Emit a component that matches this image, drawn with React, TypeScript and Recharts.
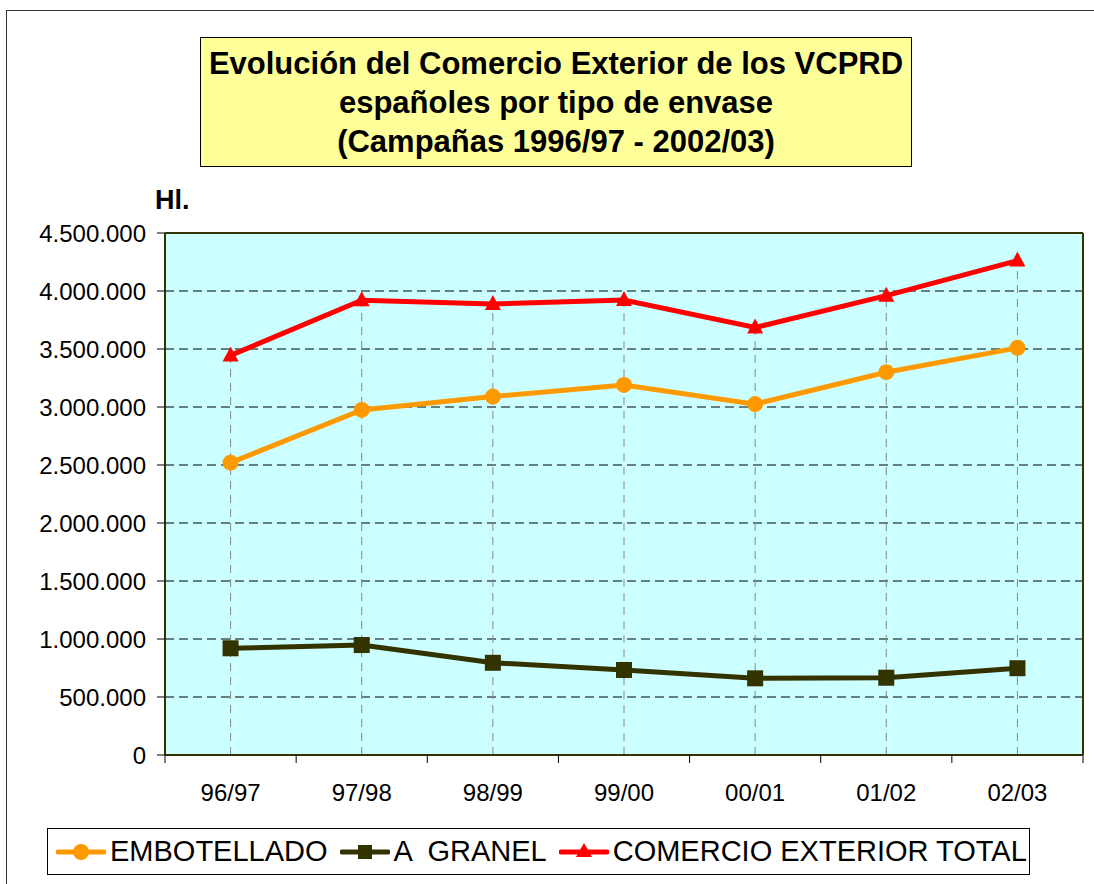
import React from 'react'
import { LineChart, Line, XAxis, YAxis, CartesianGrid, ReferenceLine } from 'recharts'

const campaigns = ['96/97', '97/98', '98/99', '99/00', '00/01', '01/02', '02/03']
const embotellado = [2520000, 2975000, 3090000, 3190000, 3025000, 3300000, 3510000]
const granel = [920000, 948000, 795000, 733000, 661000, 666000, 748000]
const total = [3445000, 3920000, 3888000, 3922000, 3685000, 3960000, 4262000]
const yTicks = [0, 500000, 1000000, 1500000, 2000000, 2500000, 3000000, 3500000, 4000000, 4500000]

const data = campaigns.map((c, i) => ({
  campaign: c,
  embotellado: embotellado[i],
  granel: granel[i],
  total: total[i],
}))

const FONT = '"Liberation Sans", Arial, sans-serif'
const W = 1094
const H = 884
const PLOT_LEFT = 165
const PLOT_RIGHT = 1083
const PLOT_TOP = 233
const PLOT_BOTTOM = 755
const BAND = (PLOT_RIGHT - PLOT_LEFT) / campaigns.length

const ORANGE = '#FF9900'
const OLIVE = '#333300'
const RED = '#FF0000'

const fmt = (v: number) => String(v).replace(/\B(?=(\d{3})+(?!\d))/g, '.')

const CircleDot = (props: any) => {
  const { cx, cy, index } = props
  return <circle key={`c-${index}`} cx={cx} cy={cy} r={8} fill={ORANGE} />
}

const SquareDot = (props: any) => {
  const { cx, cy, index } = props
  return <rect key={`s-${index}`} x={cx - 8} y={cy - 8} width={16} height={16} fill={OLIVE} />
}

const TriangleDot = (props: any) => {
  const { cx, cy, index } = props
  return (
    <polygon
      key={`t-${index}`}
      points={`${cx},${cy - 9} ${cx + 8},${cy + 6} ${cx - 8},${cy + 6}`}
      fill={RED}
    />
  )
}

const XTick = (props: any) => {
  const { x, y, payload, index } = props
  return (
    <g>
      <line x1={x - BAND / 2} y1={y} x2={x - BAND / 2} y2={y + 8} stroke="#000" />
      {index === campaigns.length - 1 && (
        <line x1={x + BAND / 2} y1={y} x2={x + BAND / 2} y2={y + 8} stroke="#000" />
      )}
      <text x={x} y={y + 46} textAnchor="middle" fontSize={24} fontFamily={FONT} fill="#000">
        {payload.value}
      </text>
    </g>
  )
}

const legendItems = [
  { label: 'EMBOTELLADO', color: ORANGE, shape: 'circle' },
  { label: 'A  GRANEL', color: OLIVE, shape: 'square' },
  { label: 'COMERCIO EXTERIOR TOTAL', color: RED, shape: 'triangle' },
]

function LegendIcon({ color, shape }: { color: string; shape: string }) {
  return (
    <svg width={50} height={20} style={{ display: 'block' }}>
      <line x1={2} y1={10} x2={48} y2={10} stroke={color} strokeWidth={5} strokeLinecap="round" />
      {shape === 'circle' && <circle cx={25} cy={10} r={8} fill={color} />}
      {shape === 'square' && <rect x={18} y={3} width={14} height={14} fill={color} />}
      {shape === 'triangle' && <polygon points="25,1 33,15 17,15" fill={color} />}
    </svg>
  )
}

export default function App() {
  return (
    <div style={{ position: 'absolute', left: 0, top: 0, width: W, height: H, overflow: 'hidden', background: '#fff', fontFamily: FONT }}>
      <div style={{ position: 'absolute', left: 6, top: 10, width: 1200, height: 1000, border: '1.5px solid #333' }} />

      <LineChart
        width={W}
        height={H}
        data={data}
        margin={{ top: PLOT_TOP - 1, right: W - PLOT_RIGHT - 1, bottom: H - PLOT_BOTTOM - 50, left: 0 }}
        style={{ position: 'absolute', left: 0, top: 0 }}
      >
        <CartesianGrid vertical={false} fill="#CCFFFF" fillOpacity={1} stroke="#000" strokeDasharray="9 5" yAxisId="left" />
        <XAxis
          dataKey="campaign"
          height={50}
          padding={{ left: BAND / 2, right: BAND / 2 }}
          tickLine={false}
          tickSize={0}
          tickMargin={0}
          axisLine={{ stroke: OLIVE, strokeWidth: 2 }}
          tick={<XTick />}
          interval={0}
        />
        <XAxis xAxisId="top" dataKey="campaign" orientation="top" height={1} tick={false} tickLine={false} axisLine={{ stroke: OLIVE, strokeWidth: 2 }} />
        <YAxis
          yAxisId="left"
          width={PLOT_LEFT}
          domain={[0, 4500000]}
          ticks={yTicks}
          interval={0}
          tickFormatter={fmt}
          tickSize={8}
          tickMargin={11}
          tickLine={{ stroke: '#000' }}
          axisLine={{ stroke: OLIVE, strokeWidth: 2 }}
          tick={{ fontSize: 24, fontFamily: FONT, fill: '#000' }}
        />
        <YAxis yAxisId="right" orientation="right" width={1} domain={[0, 4500000]} tick={false} tickLine={false} axisLine={{ stroke: OLIVE, strokeWidth: 2 }} />
        {campaigns.map((c, i) => (
          <ReferenceLine
            key={c}
            yAxisId="left"
            segment={[{ x: c, y: 0 }, { x: c, y: total[i] }]}
            stroke="#888"
            strokeDasharray="8 6"
          />
        ))}
        <Line yAxisId="left" dataKey="embotellado" name="EMBOTELLADO" stroke={ORANGE} strokeWidth={5} dot={CircleDot} isAnimationActive={false} />
        <Line yAxisId="left" dataKey="granel" name="A  GRANEL" stroke={OLIVE} strokeWidth={5} dot={SquareDot} isAnimationActive={false} />
        <Line yAxisId="left" dataKey="total" name="COMERCIO EXTERIOR TOTAL" stroke={RED} strokeWidth={5} dot={TriangleDot} isAnimationActive={false} />
      </LineChart>

      <div
        style={{
          position: 'absolute', left: 200, top: 37, width: 712, height: 130,
          background: '#FFFF99', border: '1.5px solid #000', boxSizing: 'border-box',
          textAlign: 'center', fontWeight: 'bold', fontSize: 31, lineHeight: '39px',
          paddingTop: 6, color: '#000',
        }}
      >
        Evolución del Comercio Exterior de los VCPRD<br />
        españoles por tipo de envase<br />
        (Campañas 1996/97 - 2002/03)
      </div>

      <div style={{ position: 'absolute', left: 155, top: 185, fontWeight: 'bold', fontSize: 27, color: '#000' }}>Hl.</div>

      <div
        style={{
          position: 'absolute', left: 47, top: 828, width: 983, height: 47,
          border: '1.5px solid #000', boxSizing: 'border-box',
          display: 'flex', alignItems: 'center', paddingLeft: 8,
        }}
      >
        {legendItems.map((it) => (
          <div key={it.label} style={{ display: 'flex', alignItems: 'center', marginRight: 12 }}>
            <LegendIcon color={it.color} shape={it.shape} />
            <span style={{ fontSize: 29, whiteSpace: 'pre', marginLeft: 4, color: '#000' }}>{it.label}</span>
          </div>
        ))}
      </div>
    </div>
  )
}
